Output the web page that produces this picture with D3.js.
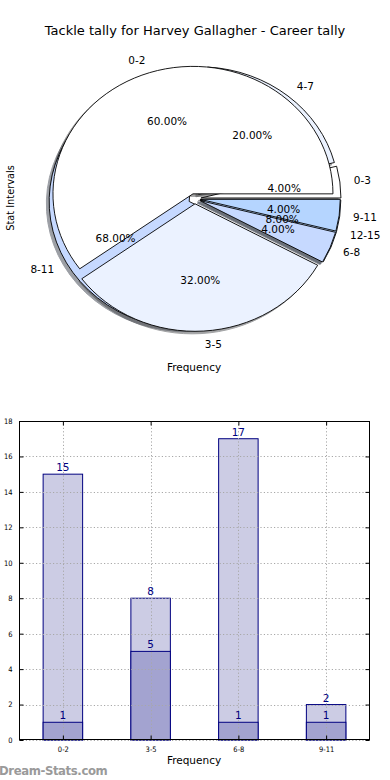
<!DOCTYPE html>
<html><head><meta charset="utf-8">
<script src="https://cdn.jsdelivr.net/npm/d3@7"></script>
<style>
body{margin:0;background:#fff;}
svg{display:block;font-family:"DejaVu Sans",sans-serif;}
</style></head>
<body><svg id="c" width="390" height="780"></svg>
<script>
// ---- data ----
const titleText = "Tackle tally for Harvey Gallagher - Career tally";
const pieBackLabels = ["0-3", "4-7", "8-11", "12-15"];
const pieBackValues = [1, 5, 17, 2];
const pieFrontLabels = ["0-2", "3-5", "6-8", "9-11"];
const pieFrontValues = [15, 8, 1, 1];
const pieColors = ["#ffffff", "#ebf2ff", "#c6d9ff", "#b5d5ff"];
const barCategories = ["0-2", "3-5", "6-8", "9-11"];
const barSeriesA = [15, 8, 17, 2];
const barSeriesB = [1, 5, 1, 1];
const yTickValues = [0, 2, 4, 6, 8, 10, 12, 14, 16, 18];

const svg = d3.select("#c");

// ---- pie chart ----
const cx = 194.7, cy = 198.7, rx = 140, ry = 127.5;
const pieGen = d3.pie().sort(null).value(d => d)
  .startAngle(Math.PI / 2).endAngle(Math.PI / 2 - 2 * Math.PI);
const arcGen = d3.arc().innerRadius(0).outerRadius(1);

function buildPie(values, labels, explode) {
  const total = d3.sum(values);
  return pieGen(values).map((a, i) => {
    const th = Math.PI / 2 - (a.startAngle + a.endAngle) / 2;
    const c = Math.cos(th), s = Math.sin(th);
    return {a, i, label: labels[i], pct: (values[i] / total * 100).toFixed(2) + "%",
      color: pieColors[i % pieColors.length], c, s,
      ox: explode * c * rx, oy: -explode * s * ry};
  });
}
const backPie = buildPie(pieBackValues, pieBackLabels, 0.045);
const frontPie = buildPie(pieFrontValues, pieFrontLabels, 0.04);

const pg = svg.append("g").attr("transform", `translate(${cx},${cy})`);
function shade(col) {
  const r = d3.rgb(col);
  return d3.rgb(r.r * 0.3, r.g * 0.3, r.b * 0.3).toString();
}
// shadows first (both pies)
[backPie, frontPie].forEach(p => {
  pg.selectAll(null).data(p).enter().append("path")
    .attr("d", d => arcGen(d.a))
    .attr("transform", d => `translate(${d.ox - 0.02 * rx},${d.oy + 0.02 * ry}) scale(${rx},${ry})`)
    .attr("fill", d => shade(d.color)).attr("stroke", d => shade(d.color))
    .attr("vector-effect", "non-scaling-stroke").attr("stroke-width", 1)
    .attr("opacity", 0.5);
});
// wedges
[backPie, frontPie].forEach(p => {
  pg.selectAll(null).data(p).enter().append("path")
    .attr("d", d => arcGen(d.a))
    .attr("transform", d => `translate(${d.ox},${d.oy}) scale(${rx},${ry})`)
    .attr("fill", d => d.color).attr("stroke", "#000")
    .attr("vector-effect", "non-scaling-stroke").attr("stroke-width", 0.9)
    .attr("stroke-linejoin", "round");
});
// texts
[backPie, frontPie].forEach(p => {
  pg.selectAll(null).data(p).enter().append("text")
    .attr("x", d => d.ox + 1.1 * rx * d.c)
    .attr("y", d => d.oy - 1.1 * ry * d.s)
    .attr("text-anchor", d => d.c > 0 ? "start" : "end")
    .attr("dominant-baseline", "central")
    .attr("font-size", 10.5).attr("fill", "#000")
    .text(d => d.label);
  pg.selectAll(null).data(p).enter().append("text")
    .attr("x", d => d.ox + 0.6 * rx * d.c)
    .attr("y", d => d.oy - 0.6 * ry * d.s)
    .attr("text-anchor", "middle")
    .attr("dominant-baseline", "central")
    .attr("font-size", 10.5).attr("fill", "#000")
    .text(d => d.pct);
});

svg.append("text").attr("x", 195).attr("y", 35).attr("text-anchor", "middle")
  .attr("font-size", 13).text(titleText);
svg.append("text").attr("transform", "translate(13.5,198) rotate(-90)")
  .attr("text-anchor", "middle").attr("font-size", 9.8).text("Stat Intervals");
svg.append("text").attr("x", 194).attr("y", 371).attr("text-anchor", "middle")
  .attr("font-size", 10.5).text("Frequency");

// ---- bar chart ----
const bl = 19, br = 370, bt = 421, bb = 740;
const x = d3.scaleLinear().domain([-0.5, barCategories.length - 0.5]).range([bl, br]);
const y = d3.scaleLinear().domain([0, 18]).range([bb, bt]);
const barW = 0.45;
const bg = svg.append("g");

bg.selectAll(null).data(barSeriesA).enter().append("rect")
  .attr("x", (d, i) => x(i - barW / 2)).attr("width", x(barW) - x(0))
  .attr("y", d => y(d)).attr("height", d => y(0) - y(d))
  .attr("fill", "#ccccE4").attr("stroke", "#000080").attr("stroke-width", 1);
bg.selectAll(null).data(barSeriesB).enter().append("rect")
  .attr("x", (d, i) => x(i - barW / 2)).attr("width", x(barW) - x(0))
  .attr("y", d => y(d)).attr("height", d => y(0) - y(d))
  .attr("fill", "#a3a3d0").attr("stroke", "#000080").attr("stroke-width", 1);

// grid
const grid = bg.append("g").attr("stroke", "#a8a8a8").attr("stroke-dasharray", "1.2,2.2").attr("stroke-width", 1);
grid.selectAll(null).data(yTickValues).enter().append("line")
  .attr("x1", bl).attr("x2", br).attr("y1", d => Math.round(y(d)) + 0.5).attr("y2", d => Math.round(y(d)) + 0.5);
grid.selectAll(null).data(barCategories).enter().append("line")
  .attr("x1", (d, i) => Math.round(x(i)) + 0.5).attr("x2", (d, i) => Math.round(x(i)) + 0.5)
  .attr("y1", bt).attr("y2", bb);

// value labels
bg.selectAll(null).data(barSeriesA).enter().append("text")
  .attr("x", (d, i) => x(i)).attr("y", d => y(d) - 3)
  .attr("text-anchor", "middle").attr("font-size", 10.5).attr("fill", "#000080").text(d => d);
bg.selectAll(null).data(barSeriesB).enter().append("text")
  .attr("x", (d, i) => x(i)).attr("y", d => y(d) - 3)
  .attr("text-anchor", "middle").attr("font-size", 10.5).attr("fill", "#000080").text(d => d);

// axes frame
bg.append("rect").attr("x", bl + 0.5).attr("y", bt + 0.5).attr("width", br - bl - 1).attr("height", bb - bt - 1)
  .attr("fill", "none").attr("stroke", "#000").attr("stroke-width", 1);

// y axis (ticks inward, both sides)
const yAxisL = d3.axisLeft(y).tickValues(yTickValues).tickSizeInner(-4).tickSizeOuter(0).tickPadding(7);
const gyl = bg.append("g").attr("transform", `translate(${bl + 0.5},0)`).call(yAxisL);
gyl.select(".domain").remove();
gyl.selectAll("text").attr("font-size", 7.5).attr("font-family", "DejaVu Sans Condensed, DejaVu Sans").attr("fill", "#000");
const yAxisR = d3.axisRight(y).tickValues(yTickValues).tickSizeInner(-4).tickSizeOuter(0).tickFormat("");
const gyr = bg.append("g").attr("transform", `translate(${br - 0.5},0)`).call(yAxisR);
gyr.select(".domain").remove();

const xAxisB = d3.axisBottom(x).tickValues(d3.range(barCategories.length))
  .tickFormat(i => barCategories[i]).tickSizeInner(-4).tickSizeOuter(0).tickPadding(7);
const gxb = bg.append("g").attr("transform", `translate(0,${bb - 0.5})`).call(xAxisB);
gxb.select(".domain").remove();
gxb.selectAll("text").attr("font-size", 7.5).attr("font-family", "DejaVu Sans Condensed, DejaVu Sans").attr("fill", "#000");
const xAxisT = d3.axisTop(x).tickValues(d3.range(barCategories.length)).tickFormat("").tickSizeInner(-4).tickSizeOuter(0);
const gxt = bg.append("g").attr("transform", `translate(0,${bt + 0.5})`).call(xAxisT);
gxt.select(".domain").remove();

svg.append("text").attr("x", 194).attr("y", 764).attr("text-anchor", "middle")
  .attr("font-size", 10.5).text("Frequency");
svg.append("text").attr("x", -1).attr("y", 775).attr("font-size", 11.7)
  .attr("fill", "#9a9a9a").attr("font-weight", "bold").attr("letter-spacing", -0.4).text("Dream-Stats.com");
</script></body></html>
